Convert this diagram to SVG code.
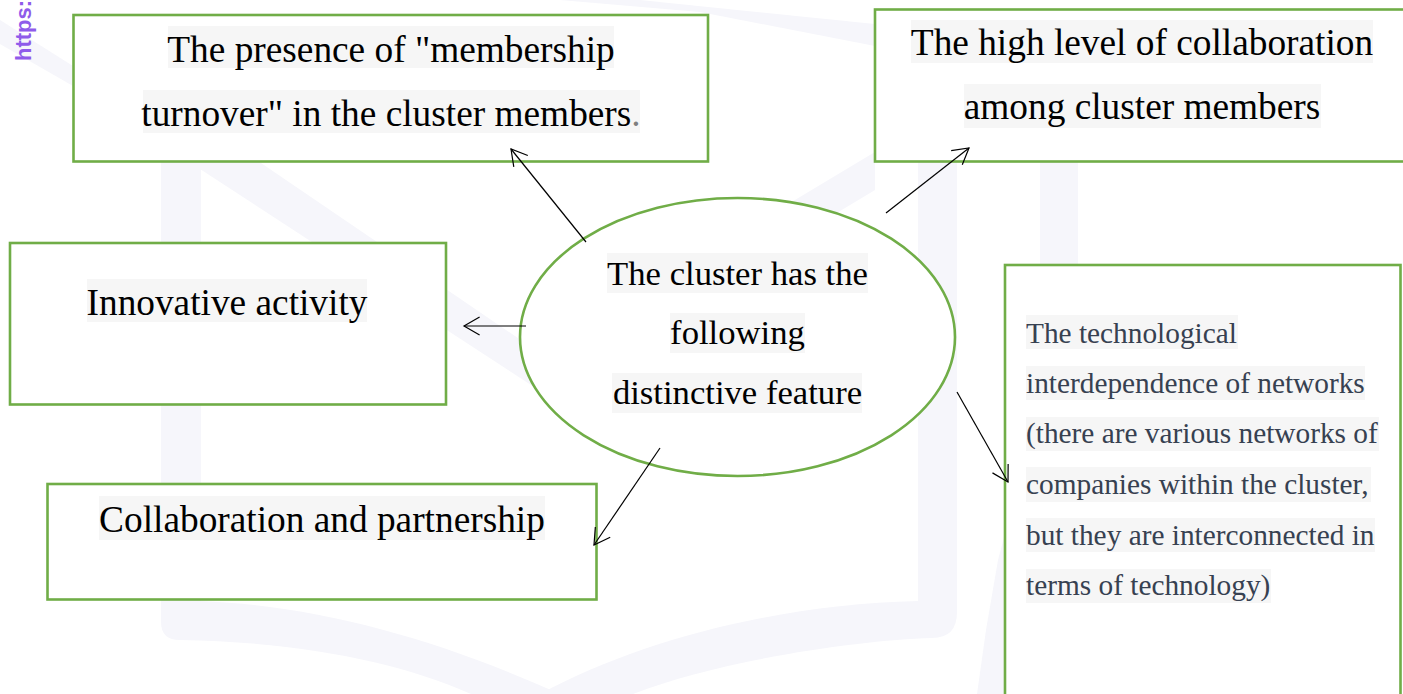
<svg xmlns="http://www.w3.org/2000/svg" width="1403" height="694" viewBox="0 0 1403 694">
<style>
.wm{fill:#F6F6FB}
.box{fill:#fff;stroke:#70AD47;stroke-width:2.6}
.hl{fill:#F6F6F6}
.t28{font-size:37.33px;fill:#000;text-anchor:middle}
.t26{font-size:34.67px;fill:#000;text-anchor:middle}
.t22{font-size:29.33px;fill:#374151}
.conn line{stroke:#000;stroke-width:1.2;fill:none;marker-end:url(#ah)}
</style>
<defs>
<marker id="ah" markerUnits="userSpaceOnUse" viewBox="-18 -11 20 22" refX="0" refY="0" markerWidth="20" markerHeight="22" orient="auto">
<path d="M-15.6,-9 L0,0 L-15.6,9" fill="none" stroke="#000" stroke-width="1.2"/>
</marker>
</defs>
<rect width="1403" height="694" fill="#fff"/>
<g id="watermark">
<path class="wm" d="M0,20 L73,66 L73,86 L0,44 Z"/>
<path class="wm" d="M560,0 L640,0 L875,24 L875,46 L700,12 Z"/>
<path class="wm" d="M161,140 L201,140 L201,601 C320,606 440,640 560,694 L471,694 C400,662 300,642 180,640 Q161,640 161,622 Z"/>
<path class="wm" d="M201,122 L600,394 L600,430 L200,169 Z"/>
<path class="wm" d="M918,150 L957,150 L957,612 Q957,638 932,638 C860,640 720,660 633,694 L540,694 C640,640 780,604 918,601 Z"/>
<path class="wm" d="M875,152 L875,190 L700,295 L700,257 Z"/>
<rect class="wm" x="1040" y="150" width="38" height="120"/>
<path class="wm" d="M1006,530 L998,560 L986,630 L977,694 L1006,694 Z"/>
</g>
<g id="watermark-text">
<text transform="translate(31,61) rotate(-90)" font-family="'Liberation Sans', Arial, sans-serif" font-weight="bold" font-size="22" fill="#8F5BEA">https:</text>
</g>
<g id="node-membership" font-family="'Liberation Serif', Tinos, 'Times New Roman', serif">
<rect class="box" x="73.5" y="15" width="634.5" height="146.5"/>
<rect class="hl" x="168" y="26" width="446" height="42"/>
<rect class="hl" x="143" y="90" width="497" height="43"/>
<text class="t28" x="391" y="62" font-family="'Liberation Serif', Tinos, 'Times New Roman', serif">The presence of "membership</text>
<text class="t28" x="391" y="126" font-family="'Liberation Serif', Tinos, 'Times New Roman', serif">turnover" in the cluster members<tspan fill="#7f7f7f">.</tspan></text>
</g>
<g id="node-collaboration-level">
<rect class="box" x="875" y="9.5" width="540" height="152"/>
<rect class="hl" x="911" y="20" width="462" height="43"/>
<rect class="hl" x="964" y="84" width="357" height="44"/>
<text class="t28" x="1142" y="55" font-family="'Liberation Serif', Tinos, 'Times New Roman', serif">The high level of collaboration</text>
<text class="t28" x="1142" y="119" font-family="'Liberation Serif', Tinos, 'Times New Roman', serif">among cluster members</text>
</g>
<g id="node-innovative">
<rect class="box" x="10" y="243" width="436" height="161.5"/>
<rect class="hl" x="87" y="279" width="280" height="43"/>
<text class="t28" x="227" y="315" font-family="'Liberation Serif', Tinos, 'Times New Roman', serif">Innovative activity</text>
</g>
<g id="node-partnership">
<rect class="box" x="47.5" y="484" width="549" height="115.5"/>
<rect class="hl" x="99" y="496" width="446" height="44"/>
<text class="t28" x="322" y="532" font-family="'Liberation Serif', Tinos, 'Times New Roman', serif">Collaboration and partnership</text>
</g>
<g id="node-technological">
<rect class="box" x="1005" y="265" width="395.5" height="450"/>
<rect class="hl" x="1026" y="315" width="212" height="34"/>
<rect class="hl" x="1026" y="366" width="339" height="34"/>
<rect class="hl" x="1026" y="417" width="353" height="34"/>
<rect class="hl" x="1026" y="467" width="345" height="35"/>
<rect class="hl" x="1026" y="518" width="349" height="34"/>
<rect class="hl" x="1026" y="569" width="245" height="34"/>
<text class="t22" x="1026" y="343" font-family="'Liberation Serif', Tinos, 'Times New Roman', serif">The technological</text>
<text class="t22" x="1026" y="393" font-family="'Liberation Serif', Tinos, 'Times New Roman', serif">interdependence of networks</text>
<text class="t22" x="1026" y="443" font-family="'Liberation Serif', Tinos, 'Times New Roman', serif">(there are various networks of</text>
<text class="t22" x="1026" y="494" font-family="'Liberation Serif', Tinos, 'Times New Roman', serif">companies within the cluster,</text>
<text class="t22" x="1026" y="545" font-family="'Liberation Serif', Tinos, 'Times New Roman', serif">but they are interconnected in</text>
<text class="t22" x="1026" y="595" font-family="'Liberation Serif', Tinos, 'Times New Roman', serif">terms of technology)</text>
</g>
<g id="node-center">
<ellipse cx="737.5" cy="337" rx="217.5" ry="139" fill="#fff" stroke="#70AD47" stroke-width="2.6"/>
<rect class="hl" x="607" y="253" width="261" height="40"/>
<rect class="hl" x="670" y="313" width="135" height="40"/>
<rect class="hl" x="612" y="373" width="250" height="40"/>
<text class="t26" x="737.5" y="285" font-family="'Liberation Serif', Tinos, 'Times New Roman', serif">The cluster has the</text>
<text class="t26" x="737.5" y="344" font-family="'Liberation Serif', Tinos, 'Times New Roman', serif">following</text>
<text class="t26" x="737.5" y="404" font-family="'Liberation Serif', Tinos, 'Times New Roman', serif">distinctive feature</text>
</g>
<g id="connectors" class="conn">
<line x1="586" y1="242" x2="511" y2="149"/>
<line x1="886" y1="213" x2="969" y2="148"/>
<line x1="526" y1="326" x2="464" y2="326"/>
<line x1="660" y1="448" x2="594" y2="545"/>
<line x1="957" y1="392" x2="1008" y2="482"/>
</g>
</svg>
